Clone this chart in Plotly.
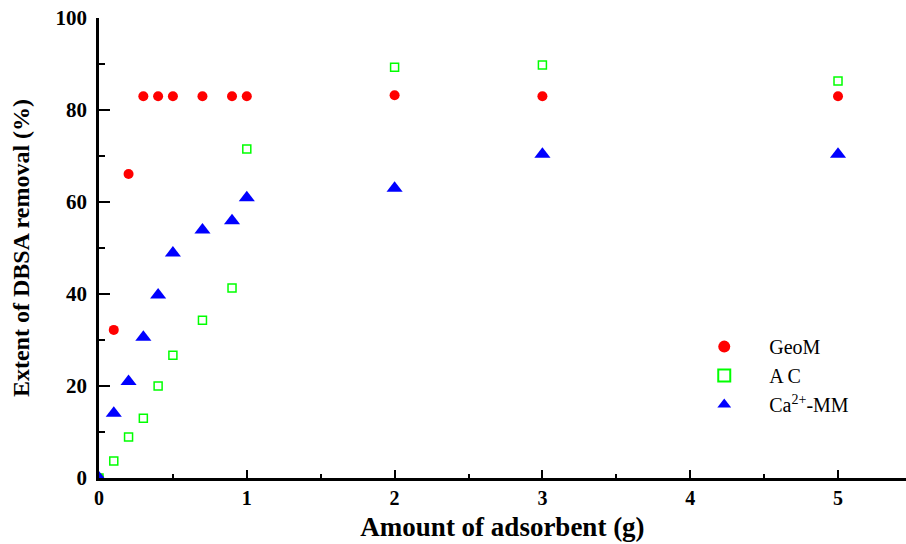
import plotly.graph_objects as go

x_vals = [0, 0.1, 0.2, 0.3, 0.4, 0.5, 0.7, 0.9, 1.0, 2, 3, 5]
geom = [0, 32.2, 66.1, 83.0, 83.0, 83.0, 83.0, 83.0, 83.0, 83.2, 83.0, 83.0]
ac = [0, 3.7, 8.9, 13.0, 20.0, 26.7, 34.3, 41.3, 71.5, 89.3, 89.8, 86.3]
camm = [0, 14.1, 21.0, 30.6, 39.8, 48.9, 53.9, 55.9, 60.9, 63.0, 70.4, 70.4]

x_ticks = [0, 1, 2, 3, 4, 5]
y_ticks = [0, 20, 40, 60, 80, 100]
series_names = ["GeoM", "A C", "Ca<sup>2+</sup>-MM"]

serif = "Liberation Serif, Times New Roman, serif"
pad = "&nbsp;" * 5

fig = go.Figure()
fig.add_trace(go.Scatter(x=x_vals, y=geom, mode="markers", name=pad + series_names[0],
                         marker=dict(symbol="circle", size=10, color="#ff0000", line=dict(width=0))))
fig.add_trace(go.Scatter(x=x_vals, y=ac, mode="markers", name=pad + series_names[1],
                         marker=dict(symbol="square-open", size=8, color="#00ff00", line=dict(width=1.5, color="#00ff00"))))
fig.add_trace(go.Scatter(x=x_vals, y=camm, mode="markers", name=pad + series_names[2],
                         marker=dict(symbol="triangle-up", size=14, color="#0000ff", line=dict(width=0))))

fig.update_layout(
    width=906, height=544,
    margin=dict(l=99, r=0, t=18, b=66),
    plot_bgcolor="white", paper_bgcolor="white",
    font=dict(family=serif, color="black"),
    showlegend=True,
    legend=dict(x=0.75, y=0.328, xanchor="left", yanchor="top",
                font=dict(family=serif, size=20, color="black"),
                bgcolor="rgba(0,0,0,0)", itemsizing="constant", tracegroupgap=0),
    xaxis=dict(range=[0, 5.46], tickvals=x_ticks, ticktext=["<b>%d</b>" % t for t in x_ticks],
               ticks="inside", ticklen=8, tickwidth=2, tickcolor="black",
               minor=dict(dtick=0.5, ticks="inside", ticklen=4, tickwidth=2, tickcolor="black"),
               showline=True, linecolor="black", linewidth=2.5, showgrid=False, zeroline=False,
               tickfont=dict(family=serif, size=20, color="black"),
               title=dict(text="<b>Amount of adsorbent (g)</b>", font=dict(family=serif, size=27, color="black"), standoff=10)),
    yaxis=dict(range=[0, 100], tickvals=y_ticks, ticktext=["<b>%d</b>" % t for t in y_ticks],
               ticks="inside", ticklen=11, tickwidth=2, tickcolor="black",
               minor=dict(dtick=10, ticks="inside", ticklen=6, tickwidth=2, tickcolor="black"),
               showline=True, linecolor="black", linewidth=2.5, showgrid=False, zeroline=False,
               tickfont=dict(family=serif, size=21, color="black"), ticklabelstandoff=5,
               title=dict(text="<b>Extent of DBSA removal (%)</b>", font=dict(family=serif, size=24, color="black"), standoff=20)),
)
fig.write_html("out.html")
